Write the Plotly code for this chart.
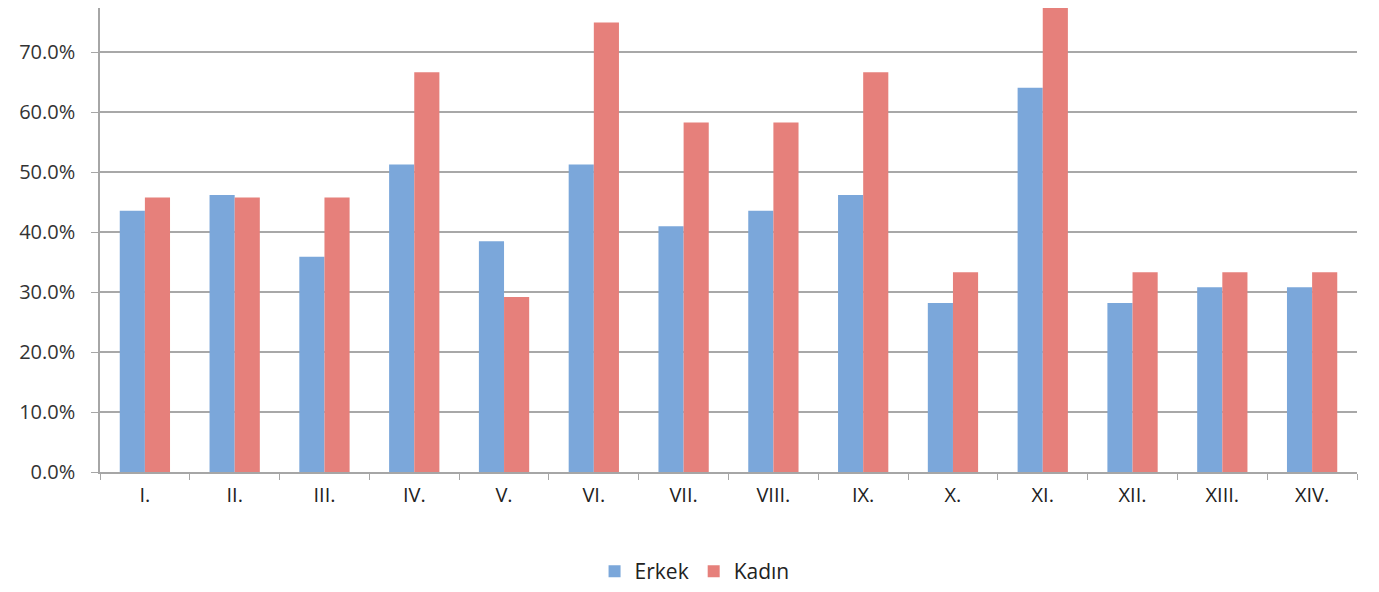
import plotly.graph_objects as go

kategoriler = ["I.", "II.", "III.", "IV.", "V.", "VI.", "VII.", "VIII.", "IX.", "X.", "XI.", "XII.", "XIII.", "XIV."]
erkek = [43.6, 46.2, 35.9, 51.3, 38.5, 51.3, 41.0, 43.6, 46.2, 28.2, 64.1, 28.2, 30.8, 30.8]
kadin = [45.8, 45.8, 45.8, 66.7, 29.2, 75.0, 58.3, 58.3, 66.7, 33.3, 79.2, 33.3, 33.3, 33.3]
y_ticks = [0, 10, 20, 30, 40, 50, 60, 70, 80]

fig = go.Figure()
fig.add_trace(go.Bar(x=kategoriler, y=erkek, name="Erkek",
                     marker=dict(color="#7ba7da", line=dict(width=0))))
fig.add_trace(go.Bar(x=kategoriler, y=kadin, name="Kadın",
                     marker=dict(color="#e6807b", line=dict(width=0))))

# sayfa kenar boşluğu 8px, o yüzden boyut biraz küçük
fig.update_layout(
    width=1371, height=584,
    margin=dict(l=92, r=22, t=0, b=119),
    plot_bgcolor="white", paper_bgcolor="white",
    barmode="group", bargap=0.44, bargroupgap=0,
    font=dict(family="Open Sans, Lato, sans-serif", size=19, color="#333333"),
    legend=dict(orientation="h", x=0.473, xanchor="center", y=-0.17, yanchor="top",
                font=dict(family="Open Sans, sans-serif", size=21, color="#222222"),
                itemwidth=30, traceorder="normal"),
    xaxis=dict(showline=True, linecolor="#a6a6a6", linewidth=1.5,
               ticks="outside", tickson="boundaries", ticklen=6, tickcolor="#a6a6a6",
               ticklabelstandoff=4,
               tickfont=dict(family="Open Sans, sans-serif", size=20, color="#222222"),
               showgrid=False),
    yaxis=dict(range=[0, 77.4], tickvals=y_ticks,
               ticktext=[f"{v:.1f}%" for v in y_ticks],
               showline=True, linecolor="#a6a6a6", linewidth=1.5,
               ticks="outside", ticklen=7, tickcolor="#a6a6a6",
               ticklabelstandoff=12,
               gridcolor="#a8a8a8", gridwidth=1.5, zeroline=False,
               tickfont=dict(size=20, color="#333333")),
)

fig.write_html("out.html")
